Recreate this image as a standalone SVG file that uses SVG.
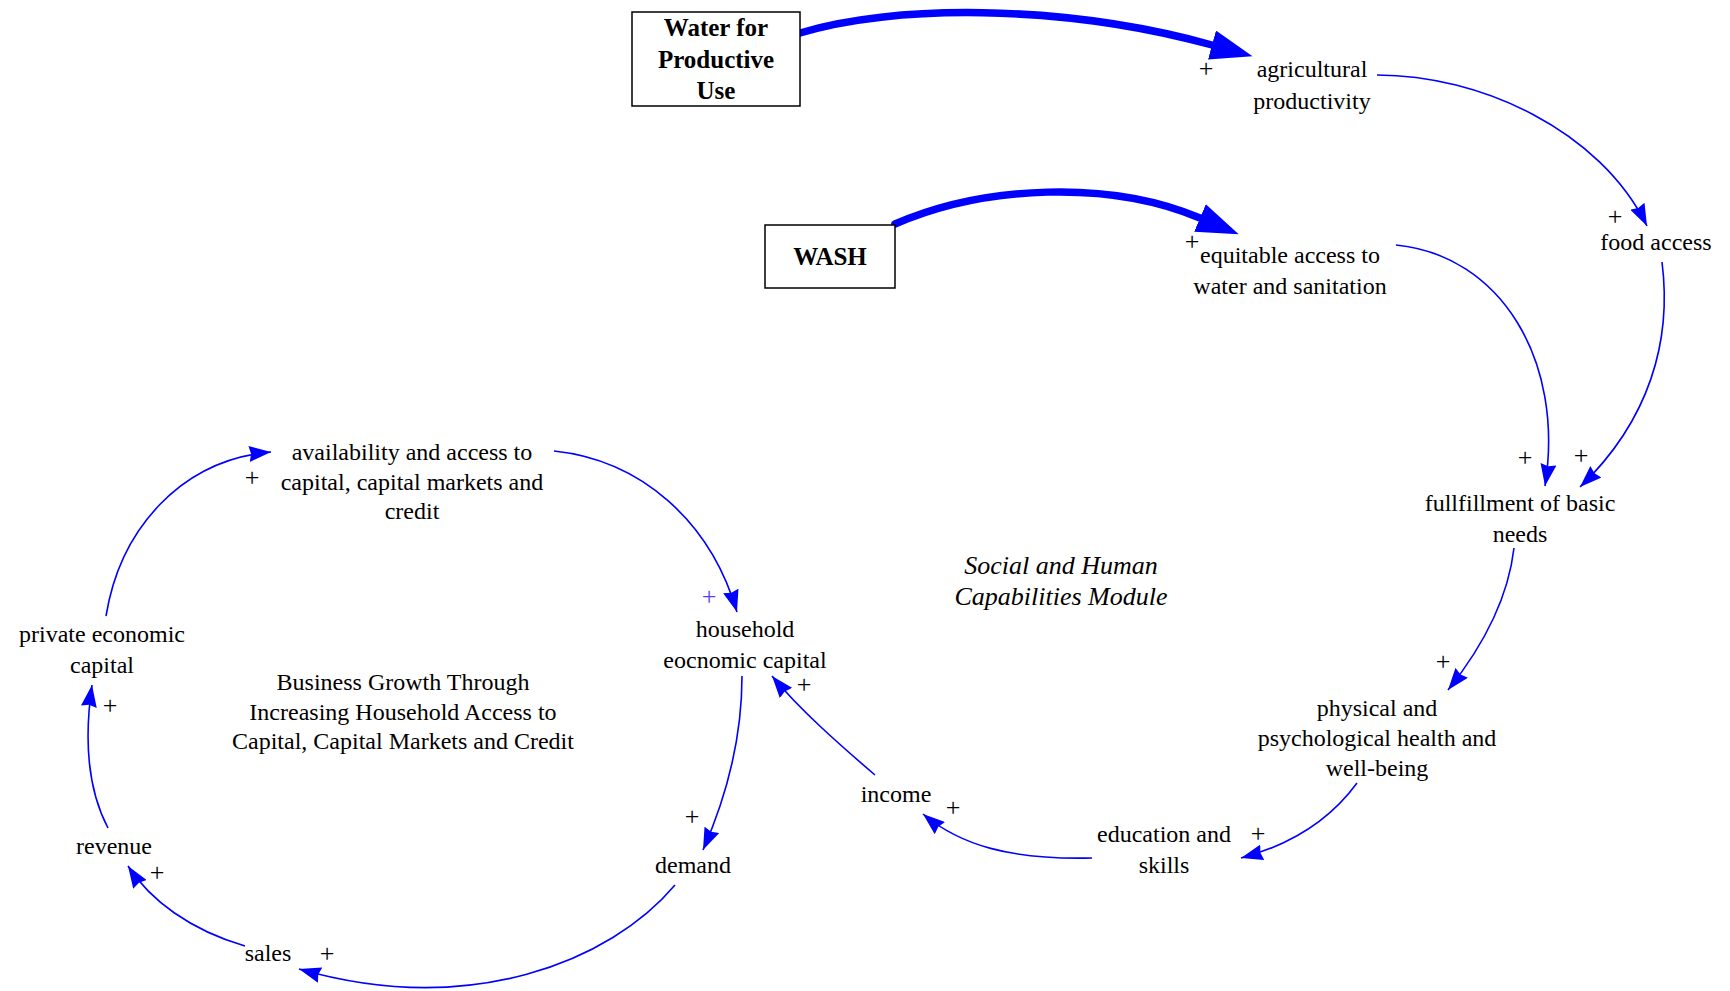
<svg xmlns="http://www.w3.org/2000/svg" width="1730" height="991" viewBox="0 0 1730 991">
  <style>
    .lbl { font-family: "Liberation Serif", "Times New Roman", serif; font-size: 24px; fill: #000; text-anchor: middle; }
    .box { fill: #fff; stroke: #000; stroke-width: 1.5; }
    .boxlbl { font-family: "Liberation Serif", "Times New Roman", serif; font-size: 25px; font-weight: bold; fill: #000; text-anchor: middle; }
    .note { font-family: "Liberation Serif", "Times New Roman", serif; font-size: 26px; font-style: italic; fill: #000; text-anchor: middle; }
    .pol { font-family: "Liberation Serif", "Times New Roman", serif; font-size: 26px; fill: #000; text-anchor: middle; }
    .link { fill: none; stroke: #0000ff; stroke-width: 1.6; marker-end: url(#head); }
    .flow { fill: none; stroke: #0000ff; stroke-width: 7.5; stroke-linecap: round; marker-end: url(#bighead); }
  </style>
  <defs>
    <marker id="head" markerUnits="userSpaceOnUse" markerWidth="24" markerHeight="16" refX="22" refY="8" orient="auto">
      <path d="M0,0 L22,8 L0,16 L2,8 z" fill="#0000ff"/>
    </marker>
    <marker id="bighead" markerUnits="userSpaceOnUse" markerWidth="44" markerHeight="30" refX="0" refY="15" orient="auto">
      <path d="M0,0 L42,15 L0,30 z" fill="#0000ff"/>
    </marker>
  </defs>

  <!-- causal links -->
  <g id="connectors">
    <path class="flow" d="M800 33 C 890 5, 1060 3, 1212 45"/>
    <path class="flow" d="M895 224 C 985 185, 1110 180, 1200 218"/>
    <path class="link" d="M1377 75 C 1480 75, 1600 130, 1647 226"/>
    <path class="link" d="M1662 262 C 1672 340, 1650 420, 1580 487"/>
    <path class="link" d="M1396 245 C 1500 255, 1565 360, 1545 486"/>
    <path class="link" d="M1514 548 C 1508 600, 1480 650, 1448 690"/>
    <path class="link" d="M1357 783 C 1330 820, 1290 845, 1241 858"/>
    <path class="link" d="M1092 858 C 1010 860, 960 845, 923 814"/>
    <path class="link" d="M875 775 C 840 745, 800 710, 772 676"/>
    <path class="link" d="M742 676 C 742 740, 725 800, 703 850"/>
    <path class="link" d="M554 451 C 640 460, 710 520, 737 612"/>
    <path class="link" d="M675 885 C 610 962, 470 1018, 299 969"/>
    <path class="link" d="M245 946 C 190 930, 150 900, 128 866"/>
    <path class="link" d="M108 828 C 88 790, 84 740, 92 685"/>
    <path class="link" d="M106 616 C 120 530, 180 460, 271 452"/>
  </g>

  <!-- link polarities -->
  <g id="polarities">
    <text class="pol" x="1206" y="77">+</text>
    <text class="pol" x="1192" y="250">+</text>
    <text class="pol" x="1615" y="225">+</text>
    <text class="pol" x="1525" y="466">+</text>
    <text class="pol" x="1581" y="464">+</text>
    <text class="pol" x="1443" y="670">+</text>
    <text class="pol" x="1258" y="842">+</text>
    <text class="pol" x="953" y="816">+</text>
    <text class="pol" x="709" y="605" style="fill:#5a3cff">+</text>
    <text class="pol" x="804" y="693">+</text>
    <text class="pol" x="692" y="825">+</text>
    <text class="pol" x="327" y="962">+</text>
    <text class="pol" x="157" y="881">+</text>
    <text class="pol" x="110" y="714">+</text>
    <text class="pol" x="252" y="486">+</text>
  </g>

  <g id="water-productive-use">
    <rect class="box" x="632" y="12" width="168" height="94"/>
    <text class="boxlbl" x="716" y="36">Water for</text>
    <text class="boxlbl" x="716" y="68">Productive</text>
    <text class="boxlbl" x="716" y="99">Use</text>
  </g>
  <g id="wash">
    <rect class="box" x="765" y="225" width="130" height="63"/>
    <text class="boxlbl" x="830" y="265">WASH</text>
  </g>
  <g id="agricultural-productivity">
    <text class="lbl" x="1312" y="77">agricultural</text>
    <text class="lbl" x="1312" y="109">productivity</text>
  </g>
  <g id="equitable-access">
    <text class="lbl" x="1290" y="263">equitable access to</text>
    <text class="lbl" x="1290" y="294">water and sanitation</text>
  </g>
  <g id="food-access">
    <text class="lbl" x="1656" y="250">food access</text>
  </g>
  <g id="basic-needs">
    <text class="lbl" x="1520" y="511">fullfillment of basic</text>
    <text class="lbl" x="1520" y="542">needs</text>
  </g>
  <g id="health-wellbeing">
    <text class="lbl" x="1377" y="716">physical and</text>
    <text class="lbl" x="1377" y="746">psychological health and</text>
    <text class="lbl" x="1377" y="776">well-being</text>
  </g>
  <g id="education-skills">
    <text class="lbl" x="1164" y="842">education and</text>
    <text class="lbl" x="1164" y="873">skills</text>
  </g>
  <g id="income">
    <text class="lbl" x="896" y="802">income</text>
  </g>
  <g id="household-capital">
    <text class="lbl" x="745" y="637">household</text>
    <text class="lbl" x="745" y="668">eocnomic capital</text>
  </g>
  <g id="demand">
    <text class="lbl" x="693" y="873">demand</text>
  </g>
  <g id="sales">
    <text class="lbl" x="268" y="961">sales</text>
  </g>
  <g id="revenue">
    <text class="lbl" x="114" y="854">revenue</text>
  </g>
  <g id="private-capital">
    <text class="lbl" x="102" y="642">private economic</text>
    <text class="lbl" x="102" y="673">capital</text>
  </g>
  <g id="capital-access">
    <text class="lbl" x="412" y="460">availability and access to</text>
    <text class="lbl" x="412" y="490">capital, capital markets and</text>
    <text class="lbl" x="412" y="519">credit</text>
  </g>

  <!-- loop titles -->
  <g id="business-growth-note">
    <text class="lbl" x="403" y="690">Business Growth Through</text>
    <text class="lbl" x="403" y="720">Increasing Household Access to</text>
    <text class="lbl" x="403" y="749">Capital, Capital Markets and Credit</text>
  </g>
  <g id="social-human-note">
    <text class="note" x="1061" y="574">Social and Human</text>
    <text class="note" x="1061" y="605">Capabilities Module</text>
  </g>
</svg>
